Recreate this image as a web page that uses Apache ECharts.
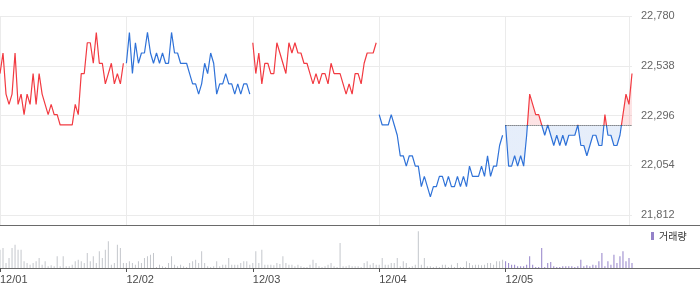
<!DOCTYPE html>
<html><head><meta charset="utf-8">
<script src="https://cdn.jsdelivr.net/npm/echarts@6/dist/echarts.min.js"></script>
<style>html,body{margin:0;padding:0;background:#fff}#c{width:700px;height:289px}</style>
</head><body><div id="c"></div>
<script>
// ---- data ----
const dayLabels = ['12/01', '12/02', '12/03', '12/04', '12/05'];
const yTicks = [21812, 22054, 22296, 22538, 22780];
const prevClose = 22250;
const volumeName = '거래량';

const price1 = [22500,22600,22400,22350,22400,22600,22350,22400,22300,22400,22350,22500,22350,22500,22400,22350,22300,22350,22300,22300,22250,22250,22250,22250,22250,22350,22300,22500,22500,22650,22650,22550,22700,22550,22550,22450,22500,22550,22450,22500,22450,22550];
const price2 = [22550,22700,22500,22650,22550,22600,22600,22700,22600,22550,22600,22550,22600,22550,22550,22700,22600,22600,22550,22550,22550,22500,22450,22450,22400,22450,22550,22500,22600,22550,22400,22450,22450,22500,22450,22450,22400,22450,22400,22450,22450,22400];
const price3 = [22650,22500,22600,22450,22550,22550,22500,22500,22650,22600,22550,22500,22650,22600,22650,22600,22600,22550,22550,22500,22450,22500,22450,22500,22500,22450,22550,22500,22500,22500,22450,22400,22450,22400,22500,22500,22450,22550,22600,22600,22600,22650];
const price4 = [22300,22250,22250,22250,22300,22250,22200,22100,22100,22050,22100,22100,22050,22050,21950,22000,21950,21900,21950,21950,22000,22000,21950,22000,21950,21950,22000,21950,22000,21950,22050,22000,22000,22000,22050,22000,22100,22000,22050,22050,22150,22200];
const price5 = [22250,22050,22050,22100,22050,22100,22050,22200,22400,22350,22300,22300,22250,22200,22250,22200,22150,22200,22150,22200,22150,22200,22200,22200,22250,22150,22150,22100,22150,22200,22200,22150,22150,22300,22200,22200,22150,22150,22200,22300,22400,22350,22500];

const vol1 = [55,60,15,30,60,70,55,55,20,15,10,15,20,30,10,20,5,8,5,35,5,35,5,5,10,20,25,20,15,45,20,35,15,50,30,55,80,10,15,70,60,15];
const vol2 = [15,20,15,10,20,15,30,35,40,45,3,10,5,3,15,35,10,5,10,5,3,15,20,25,15,50,15,5,3,5,20,5,10,10,30,10,10,10,15,20,20,10];
const vol3 = [15,50,15,55,10,10,10,8,15,12,35,15,10,10,5,10,5,3,3,10,25,15,5,3,5,10,15,5,3,75,5,5,8,5,5,5,3,15,20,10,15,10];
const vol4 = [10,30,10,10,15,15,30,5,20,15,3,5,10,110,10,30,5,5,3,5,3,10,10,3,10,3,15,3,3,20,15,8,10,10,8,10,15,15,10,20,20,25];
const vol5 = [20,15,10,10,5,5,5,10,35,10,3,3,60,3,15,18,5,3,3,5,5,5,5,3,5,25,5,8,5,10,8,20,45,5,20,10,40,15,35,50,20,30,15];

// ---- build ----
const PER_DAY = 42;
const RED = '#f23a41', BLUE = '#2f72d8';
const priceDays = [price1, price2, price3, price4, price5];
const volDays = [vol1, vol2, vol3, vol4, vol5];
const dayColors = [RED, BLUE, RED, BLUE];
const lastIdx = 4 * PER_DAY + price5.length - 1;
const PLOT_W = 632;

function dayData(d) {
  const start = d * PER_DAY;
  return priceDays[d].map((v, i) => [start + i, v]);
}
function volData(days) {
  const out = [];
  days.forEach(d => volDays[d].forEach((v, i) => out.push([d * PER_DAY + i, v])));
  return out;
}
const dayTickVals = dayLabels.map((_, i) => i * PER_DAY);
const fmt = v => String(Math.round(v)).replace(/\B(?=(\d{3})+(?!\d))/g, ',');

// split colour at the previous close inside the last day's bounding box
const hi5 = Math.max(...price5), lo5 = Math.min(...price5);
const splitAt = (hi5 - prevClose) / (hi5 - lo5);
function splitGradient(top, bottom) {
  return new echarts.graphic.LinearGradient(0, 0, 0, 1, [
    { offset: 0, color: top }, { offset: splitAt, color: top },
    { offset: splitAt, color: bottom }, { offset: 1, color: bottom }
  ]);
}

const series = [];
for (let d = 0; d < 4; d++) {
  series.push({
    type: 'line', xAxisIndex: 0, yAxisIndex: 0, symbol: 'none', showSymbol: false,
    lineStyle: { color: dayColors[d], width: 1.2 }, itemStyle: { color: dayColors[d] },
    data: dayData(d), z: 3
  });
}
series.push({
  type: 'line', xAxisIndex: 0, yAxisIndex: 0, symbol: 'none', showSymbol: false,
  lineStyle: { width: 1.2, color: splitGradient(RED, BLUE) },
  itemStyle: { color: RED },
  areaStyle: { origin: prevClose, color: splitGradient('rgba(242,58,65,0.14)', 'rgba(47,114,216,0.12)'), opacity: 1 },
  data: dayData(4), z: 3,
  markLine: {
    silent: true, symbol: ['none', 'none'], label: { show: false },
    lineStyle: { type: 'dotted', color: '#444', width: 1 },
    data: [[{ coord: [4 * PER_DAY, prevClose] }, { coord: [lastIdx, prevClose] }]]
  }
});
series.push({
  name: 'prev', type: 'bar', xAxisIndex: 3, yAxisIndex: 3, barWidth: 1, barGap: '-100%',
  itemStyle: { color: '#c4c7cc' }, data: volData([0, 1, 2, 3])
});
series.push({
  name: volumeName, type: 'bar', xAxisIndex: 3, yAxisIndex: 3, barWidth: 1, barGap: '-100%',
  itemStyle: { color: '#9482c9' }, data: volData([4])
});

const hidden = { show: false };
const option = {
  animation: false,
  textStyle: { fontFamily: 'Liberation Sans, Arial, sans-serif' },
  grid: [
    { left: 0, top: 16, width: PLOT_W, height: 199, containLabel: false, outerBoundsMode: 'none' },
    { left: 0, top: 16, width: PLOT_W * (lastIdx - 1) / lastIdx, height: 209, containLabel: false, outerBoundsMode: 'none' },
    { left: 0, right: 0, top: 16, height: 209, containLabel: false, outerBoundsMode: 'none' },
    { left: 0, top: 228, width: PLOT_W, height: 40, containLabel: false, outerBoundsMode: 'none' },
    { left: 0, right: 0, top: 228, height: 40, containLabel: false, outerBoundsMode: 'none' }
  ],
  xAxis: [
    { gridIndex: 0, type: 'value', min: 0, max: lastIdx, show: false },
    { gridIndex: 1, type: 'value', min: 0, max: lastIdx - 1, interval: PER_DAY,
      axisLine: hidden, axisTick: hidden, axisLabel: hidden,
      splitLine: { show: true, lineStyle: { color: '#ebebeb', width: 1 } } },
    { gridIndex: 2, type: 'value', min: 0, max: 1,
      axisLine: { show: true, onZero: false, lineStyle: { color: '#6a6a6a', width: 1 } },
      axisTick: hidden, axisLabel: hidden, splitLine: hidden },
    { gridIndex: 3, type: 'value', min: 0, max: lastIdx, interval: PER_DAY,
      axisLine: { show: false, onZero: false },
      axisTick: { show: true, length: 4, customValues: dayTickVals, lineStyle: { color: '#555' } },
      axisLabel: { show: true, customValues: dayTickVals, align: 'left', margin: 6, fontSize: 11, color: '#4a4a4a',
        formatter: v => dayLabels[Math.round(v / PER_DAY)] || '' },
      splitLine: hidden },
    { gridIndex: 4, type: 'value', min: 0, max: 1,
      axisLine: { show: true, onZero: false, lineStyle: { color: '#6a6a6a', width: 1 } },
      axisTick: hidden, axisLabel: hidden, splitLine: hidden }
  ],
  yAxis: [
    { gridIndex: 0, type: 'value', position: 'right', min: yTicks[0], max: yTicks[yTicks.length - 1],
      interval: yTicks[1] - yTicks[0],
      axisLine: hidden, axisTick: hidden,
      axisLabel: { margin: 9, fontSize: 11, color: '#666', formatter: fmt },
      splitLine: { show: true, lineStyle: { color: '#ebebeb', width: 1 } } },
    { gridIndex: 1, type: 'value', min: 0, max: 1, show: false },
    { gridIndex: 2, type: 'value', min: 0, max: 1, show: false },
    { gridIndex: 3, type: 'value', min: 0, max: 120, show: false },
    { gridIndex: 4, type: 'value', min: 0, max: 1, show: false }
  ],
  legend: {
    data: [volumeName], left: 651, top: 231, padding: 0, icon: 'rect',
    itemWidth: 3, itemHeight: 8, selectedMode: false,
    textStyle: { fontSize: 10, color: '#333', fontFamily: 'Noto Sans CJK KR' }
  },
  series: series
};
const chart = echarts.init(document.getElementById('c'), null, { renderer: 'canvas' });
chart.setOption(option);
</script>
</body></html>
